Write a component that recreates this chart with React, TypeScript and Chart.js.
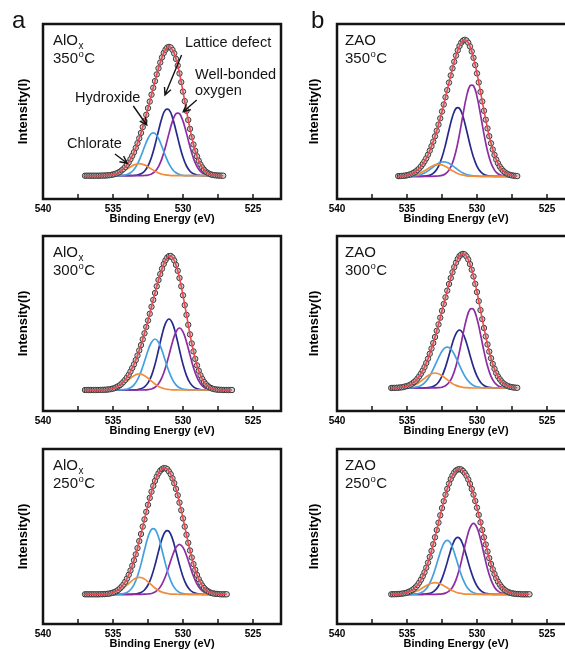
import { useEffect, useRef } from 'react';
import { Chart, registerables } from 'chart.js';

Chart.register(...registerables);

const FONT = '"Liberation Sans", Arial, Helvetica, sans-serif';
const _ = null;

// Binding-energy sample positions (eV)
const energyFine = [537, 536.875, 536.75, 536.625, 536.5, 536.375, 536.25, 536.125, 536, 535.875,
  535.75, 535.625, 535.5, 535.375, 535.25, 535.125, 535, 534.875, 534.75, 534.625,
  534.5, 534.375, 534.25, 534.125, 534, 533.875, 533.75, 533.625, 533.5, 533.375,
  533.25, 533.125, 533, 532.875, 532.75, 532.625, 532.5, 532.375, 532.25, 532.125,
  532, 531.875, 531.75, 531.625, 531.5, 531.375, 531.25, 531.125, 531, 530.875,
  530.75, 530.625, 530.5, 530.375, 530.25, 530.125, 530, 529.875, 529.75, 529.625,
  529.5, 529.375, 529.25, 529.125, 529, 528.875, 528.75, 528.625, 528.5, 528.375,
  528.25, 528.125, 528, 527.875, 527.75, 527.625, 527.5, 527.375, 527.25, 527.125,
  527, 526.875, 526.75, 526.625, 526.5, 526.375, 526.25];
const energyCoarse = [537, 536.75, 536.5, 536.25, 536, 535.75, 535.5, 535.25, 535, 534.75,
  534.5, 534.25, 534, 533.75, 533.5, 533.25, 533, 532.75, 532.5, 532.25,
  532, 531.75, 531.5, 531.25, 531, 530.75, 530.5, 530.25, 530, 529.75,
  529.5, 529.25, 529, 528.75, 528.5, 528.25, 528, 527.75, 527.5, 527.25,
  527, 526.75, 526.5, 526.25];

const xTickValues = [540, 537.5, 535, 532.5, 530, 527.5, 525];
const xLabeledTicks = [540, 535, 530, 525];

// ---------- AlOx 350 C ----------
const aloxMeasured350 = [0, 0, 0, 0, 0, 0, 0, 0, 0, 0.1,
  0.1, 0.2, 0.2, 0.4, 0.5, 0.8, 1.2, 1.6, 2.3, 3.1,
  4.0, 5.4, 6.8, 8.7, 11.0, 13.4, 16.6, 19.9, 23.5, 27.8,
  32.5, 37.4, 42.8, 48.6, 54.6, 60.9, 67.6, 74.1, 81.0, 87.9,
  94.6, 101.3, 107.4, 113.2, 118.3, 122.8, 126.0, 128.2, 128.8, 128.2,
  125.8, 122.2, 116.8, 110.2, 102.3, 93.6, 84.1, 74.6, 64.9, 55.7,
  46.8, 38.6, 31.2, 24.8, 19.4, 14.9, 11.1, 8.2, 6.0, 4.1,
  2.9, 1.9, 1.2, 0.8, 0.5, 0.3, 0.2, 0.1, 0, 0,
  _, _, _, _, _, _, _];
const aloxLattice350 = [0, 0, 0, 0, 0, 0, 0, 0, 0, 0,
  0, 0, 0, 0, 0.2, 0.7, 1.9, 4.5, 9.7, 18.4,
  30.7, 45.0, 58.0, 65.9, 65.9, 58.0, 45.0, 30.7, 18.4, 9.7,
  4.5, 1.9, 0.7, 0.2, 0, 0, 0, 0, 0, 0,
  _, _, _, _];
const aloxWell350 = [0, 0, 0, 0, 0, 0, 0, 0, 0, 0,
  0, 0, 0, 0, 0, 0, 0, 0.2, 0.6, 1.7,
  4.3, 9.1, 17.3, 28.9, 42.3, 54.6, 62.0, 62.0, 54.6, 42.3,
  28.9, 17.3, 9.1, 4.3, 1.7, 0.6, 0.2, 0, 0, 0,
  _, _, _, _];
const aloxHydroxide350 = [0, 0, 0, 0, 0, 0, 0, 0, 0, 0,
  0.1, 0.4, 1.2, 2.9, 6.2, 11.8, 19.7, 28.9, 37.2, 42.3,
  42.3, 37.2, 28.9, 19.7, 11.8, 6.2, 2.9, 1.2, 0.4, 0.1,
  0, 0, 0, 0, 0, 0, 0, 0, 0, 0,
  _, _, _, _];
const aloxChlorate350 = [0, 0, 0, 0, 0, 0, 0.1, 0.4, 0.8, 1.5,
  2.7, 4.5, 6.6, 8.8, 10.8, 11.9, 11.9, 10.8, 8.8, 6.6,
  4.5, 2.7, 1.5, 0.8, 0.4, 0.1, 0, 0, 0, 0,
  0, 0, 0, 0, 0, 0, 0, 0, 0, 0,
  _, _, _, _];

// ---------- AlOx 300 C ----------
const aloxMeasured300 = [0, 0, 0, 0, 0, 0, 0, 0, 0, 0.1,
  0.1, 0.2, 0.3, 0.5, 0.7, 1.0, 1.4, 2.0, 2.9, 3.8,
  4.9, 6.4, 8.2, 10.2, 12.6, 15.3, 18.5, 22.0, 25.7, 29.9,
  34.5, 39.6, 44.9, 50.7, 56.7, 63.0, 69.5, 76.2, 83.2, 90.1,
  97.0, 103.7, 110.0, 115.9, 121.3, 126.0, 129.8, 132.5, 133.9, 134.0,
  132.5, 129.5, 125.1, 119.2, 112.0, 103.7, 94.7, 84.9, 75.1, 65.2,
  55.6, 46.6, 38.6, 31.1, 24.6, 19.2, 14.7, 11.1, 8.1, 5.9,
  4.2, 2.8, 1.9, 1.2, 0.8, 0.5, 0.3, 0.2, 0.1, 0,
  0, 0, 0, 0, 0, _, _];
const aloxLattice300 = [0, 0, 0, 0, 0, 0, 0, 0, 0, 0,
  0, 0, 0, 0, 0.1, 0.4, 1.2, 3.1, 7.1, 14.4,
  25.6, 40.0, 55.0, 66.6, 71, 66.6, 55.0, 40.0, 25.6, 14.4,
  7.1, 3.1, 1.2, 0.4, 0.1, 0, 0, 0, 0, 0,
  0, 0, 0, _];
const aloxWell300 = [0, 0, 0, 0, 0, 0, 0, 0, 0, 0,
  0, 0, 0, 0, 0, 0, 0, 0.1, 0.4, 1.0,
  2.7, 6.2, 12.6, 22.3, 34.9, 48.1, 58.2, 62, 58.2, 48.1,
  34.9, 22.3, 12.6, 6.2, 2.7, 1.0, 0.4, 0.1, 0, 0,
  0, 0, 0, _];
const aloxHydroxide300 = [0, 0, 0, 0, 0, 0, 0, 0, 0, 0,
  0.1, 0.3, 0.9, 2.2, 5.1, 10.4, 18.4, 28.7, 39.5, 47.8,
  51, 47.8, 39.5, 28.7, 18.4, 10.4, 5.1, 2.2, 0.9, 0.3,
  0.1, 0, 0, 0, 0, 0, 0, 0, 0, 0,
  0, 0, 0, _];
const aloxChlorate300 = [0, 0, 0, 0, 0, 0.1, 0.2, 0.5, 1.0, 2.0,
  3.6, 6.0, 8.8, 11.8, 14.3, 15.8, 15.8, 14.3, 11.8, 8.8,
  6.0, 3.6, 2.0, 1.0, 0.5, 0.2, 0.1, 0, 0, 0,
  0, 0, 0, 0, 0, 0, 0, 0, 0, 0,
  0, 0, 0, _];

// ---------- AlOx 250 C ----------
const aloxMeasured250 = [0, 0, 0, 0, 0, 0, 0, 0, 0, 0.1,
  0.1, 0.2, 0.3, 0.5, 0.7, 1.2, 1.7, 2.3, 3.2, 4.4,
  5.9, 7.7, 9.9, 12.6, 15.8, 19.5, 23.8, 28.6, 34.0, 39.9,
  46.2, 53.2, 60.3, 67.7, 74.9, 82.4, 89.5, 96.4, 102.6, 108.4,
  113.4, 117.7, 121.0, 123.6, 125.2, 126.2, 126.0, 125.1, 122.8, 120.0,
  115.9, 111.1, 105.4, 99.0, 91.7, 84.1, 75.9, 67.7, 59.5, 51.5,
  43.8, 36.8, 30.2, 24.5, 19.4, 15.1, 11.6, 8.7, 6.4, 4.6,
  3.3, 2.3, 1.5, 1.0, 0.6, 0.4, 0.3, 0.1, 0, 0,
  0, 0, _, _, _, _, _];
const aloxHydroxide250 = [0, 0, 0, 0, 0, 0, 0, 0, 0, 0,
  0.2, 0.7, 1.8, 4.5, 9.6, 18.2, 30.2, 44.3, 57.2, 64.9,
  64.9, 57.2, 44.3, 30.2, 18.2, 9.6, 4.5, 1.8, 0.7, 0.2,
  0, 0, 0, 0, 0, 0, 0, 0, 0, 0,
  0, _, _, _];
const aloxLattice250 = [0, 0, 0, 0, 0, 0, 0, 0, 0, 0,
  0, 0, 0, 0, 0.2, 0.6, 1.8, 4.3, 9.3, 17.6,
  29.3, 42.9, 55.4, 63.0, 63.0, 55.4, 42.9, 29.3, 17.6, 9.3,
  4.3, 1.8, 0.6, 0.2, 0, 0, 0, 0, 0, 0,
  0, _, _, _];
const aloxWell250 = [0, 0, 0, 0, 0, 0, 0, 0, 0, 0,
  0, 0, 0, 0, 0, 0, 0, 0.1, 0.3, 0.8,
  2.2, 5.0, 10.2, 18.0, 28.2, 38.8, 46.9, 50, 46.9, 38.8,
  28.2, 18.0, 10.2, 5.0, 2.2, 0.8, 0.3, 0.1, 0, 0,
  0, _, _, _];
const aloxChlorate250 = [0, 0, 0, 0, 0, 0.1, 0.2, 0.5, 1.1, 2.2,
  3.9, 6.3, 9.4, 12.5, 15.2, 16.8, 16.8, 15.2, 12.5, 9.4,
  6.3, 3.9, 2.2, 1.1, 0.5, 0.2, 0.1, 0, 0, 0,
  0, 0, 0, 0, 0, 0, 0, 0, 0, 0,
  0, _, _, _];

// ---------- ZAO 350 C ----------
const zaoMeasured350 = [_, _, _, _, _, _, _, _, _, _,
  _, 0.2, 0.2, 0.4, 0.5, 0.7, 1.0, 1.5, 2.0, 2.8,
  3.7, 4.8, 6.3, 7.9, 9.9, 12.3, 15.0, 18.0, 21.6, 25.6,
  30.1, 34.7, 40.0, 45.6, 51.7, 58.0, 64.8, 71.8, 79.1, 86.2,
  93.7, 100.9, 108.0, 114.6, 120.7, 126.0, 130.3, 133.7, 135.7, 136.5,
  135.8, 133.6, 129.9, 124.9, 118.5, 111.2, 102.9, 93.9, 84.4, 74.9,
  65.5, 56.6, 47.9, 40.1, 33.0, 26.8, 21.4, 16.7, 13.0, 9.8,
  7.4, 5.4, 3.9, 2.7, 1.9, 1.3, 0.9, 0.6, 0.4, 0.2,
  _, _, _, _, _, _, _];
const zaoWell350 = [_, _, _, _, _, _, 0, 0, 0, 0,
  0, 0, 0, 0, 0, 0, 0.1, 0.3, 0.9, 2.5,
  6.2, 13.3, 25.3, 42.1, 61.7, 79.7, 90.5, 90.5, 79.7, 61.7,
  42.1, 25.3, 13.3, 6.2, 2.5, 0.9, 0.3, 0.1, 0, 0,
  _, _, _, _];
const zaoLattice350 = [_, _, _, _, _, _, 0, 0, 0, 0,
  0, 0, 0, 0.2, 0.7, 1.9, 4.7, 10.0, 19.0, 31.6,
  46.3, 59.8, 67.9, 67.9, 59.8, 46.3, 31.6, 19.0, 10.0, 4.7,
  1.9, 0.7, 0.2, 0, 0, 0, 0, 0, 0, 0,
  _, _, _, _];
const zaoHydroxide350 = [_, _, _, _, _, _, 0, 0, 0, 0.2,
  0.4, 0.9, 1.8, 3.3, 5.4, 8.0, 10.7, 13.0, 14.3, 14.3,
  13.0, 10.7, 8.0, 5.4, 3.3, 1.8, 0.9, 0.4, 0.2, 0,
  0, 0, 0, 0, 0, 0, 0, 0, 0, 0,
  _, _, _, _];
const zaoChlorate350 = [_, _, _, _, _, _, 0, 0.1, 0.2, 0.5,
  1.1, 2.1, 3.5, 5.5, 7.7, 9.9, 11.4, 12, 11.4, 9.9,
  7.7, 5.5, 3.5, 2.1, 1.1, 0.5, 0.2, 0.1, 0, 0,
  0, 0, 0, 0, 0, 0, 0, 0, 0, 0,
  _, _, _, _];

// ---------- ZAO 300 C ----------
const zaoMeasured300 = [_, _, _, _, _, _, _, 0, 0.1, 0.1,
  0.2, 0.3, 0.5, 0.7, 1.0, 1.5, 1.9, 2.6, 3.4, 4.5,
  5.9, 7.4, 9.5, 11.7, 14.4, 17.4, 20.9, 25.0, 29.3, 34.2,
  39.4, 45.0, 51.0, 57.2, 63.6, 70.3, 77.2, 84.0, 90.7, 97.4,
  104.0, 110.0, 115.7, 120.9, 125.3, 129.0, 131.9, 133.5, 134.1, 133.6,
  131.6, 128.5, 123.9, 118.3, 111.6, 104.1, 95.9, 86.9, 77.9, 68.9,
  60.0, 51.6, 43.6, 36.4, 29.8, 24.1, 19.2, 14.9, 11.5, 8.8,
  6.6, 4.7, 3.5, 2.4, 1.7, 1.1, 0.8, 0.5, 0.3, 0.2,
  _, _, _, _, _, _, _];
const zaoWell300 = [_, _, _, _, 0, 0, 0, 0, 0, 0,
  0, 0, 0, 0, 0, 0, 0.1, 0.3, 0.8, 2.2,
  5.4, 11.6, 22.0, 36.6, 53.7, 69.3, 78.7, 78.7, 69.3, 53.7,
  36.6, 22.0, 11.6, 5.4, 2.2, 0.8, 0.3, 0.1, 0, 0,
  _, _, _, _];
const zaoLattice300 = [_, _, _, _, 0, 0, 0, 0, 0, 0,
  0, 0, 0, 0.1, 0.3, 1.0, 2.5, 5.8, 11.8, 20.9,
  32.7, 45.0, 54.4, 58, 54.4, 45.0, 32.7, 20.9, 11.8, 5.8,
  2.5, 1.0, 0.3, 0.1, 0, 0, 0, 0, 0, 0,
  _, _, _, _];
const zaoHydroxide300 = [_, _, _, _, 0, 0, 0, 0, 0, 0.2,
  0.5, 1.2, 2.6, 5.2, 9.3, 15.3, 22.6, 30.2, 36.7, 40.5,
  40.5, 36.7, 30.2, 22.6, 15.3, 9.3, 5.2, 2.6, 1.2, 0.5,
  0.2, 0, 0, 0, 0, 0, 0, 0, 0, 0,
  _, _, _, _];
const zaoChlorate300 = [_, _, _, _, 0, 0, 0.1, 0.3, 0.7, 1.4,
  2.6, 4.4, 6.9, 9.7, 12.3, 14.3, 15, 14.3, 12.3, 9.7,
  6.9, 4.4, 2.6, 1.4, 0.7, 0.3, 0.1, 0, 0, 0,
  0, 0, 0, 0, 0, 0, 0, 0, 0, 0,
  _, _, _, _];

// ---------- ZAO 250 C ----------
const zaoMeasured250 = [_, _, _, _, _, _, _, 0, 0.1, 0.1,
  0.2, 0.2, 0.4, 0.6, 0.9, 1.2, 1.7, 2.4, 3.2, 4.3,
  5.6, 7.3, 9.2, 11.8, 14.7, 18.1, 22.0, 26.6, 31.7, 37.4,
  43.4, 50.1, 57.0, 64.3, 71.6, 79.0, 86.2, 93.1, 99.6, 105.4,
  110.7, 115.3, 118.9, 121.9, 123.8, 124.8, 125.2, 124.8, 123.3, 121.3,
  118.5, 114.8, 110.4, 105.3, 99.7, 93.3, 86.6, 79.4, 72.0, 64.4,
  57.0, 49.8, 42.8, 36.2, 30.3, 25.0, 20.3, 16.1, 12.6, 9.8,
  7.4, 5.6, 4.1, 2.9, 2.1, 1.5, 1.0, 0.7, 0.4, 0.3,
  0.2, 0.1, 0, 0, 0, 0, 0];
const zaoWell250 = [_, _, _, _, 0, 0, 0, 0, 0, 0,
  0, 0, 0, 0, 0, 0, 0, 0.1, 0.4, 1.2,
  3.1, 7.1, 14.4, 25.6, 40.0, 55.0, 66.6, 71, 66.6, 55.0,
  40.0, 25.6, 14.4, 7.1, 3.1, 1.2, 0.4, 0.1, 0, 0,
  0, 0, 0, 0];
const zaoLattice250 = [_, _, _, _, 0, 0, 0, 0, 0, 0,
  0, 0, 0, 0.2, 0.6, 1.6, 3.9, 8.3, 15.7, 26.1,
  38.2, 49.4, 56.1, 56.1, 49.4, 38.2, 26.1, 15.7, 8.3, 3.9,
  1.6, 0.6, 0.2, 0, 0, 0, 0, 0, 0, 0,
  0, 0, 0, 0];
const zaoHydroxide250 = [_, _, _, _, 0, 0, 0, 0, 0, 0,
  0.2, 0.5, 1.5, 3.7, 7.8, 14.9, 24.7, 36.2, 46.8, 53.1,
  53.1, 46.8, 36.2, 24.7, 14.9, 7.8, 3.7, 1.5, 0.5, 0.2,
  0, 0, 0, 0, 0, 0, 0, 0, 0, 0,
  0, 0, 0, 0];
const zaoChlorate250 = [_, _, _, _, 0, 0, 0.1, 0.2, 0.5, 1.1,
  2.0, 3.5, 5.4, 7.5, 9.6, 11.1, 11.7, 11.1, 9.6, 7.5,
  5.4, 3.5, 2.0, 1.1, 0.5, 0.2, 0.1, 0, 0, 0,
  0, 0, 0, 0, 0, 0, 0, 0, 0, 0,
  0, 0, 0, 0];

// ---------- Annotations (AlOx 350 C panel), in data units ----------
const noteLabels = ['Lattice defect', 'Well-bonded', 'oxygen', 'Hydroxide', 'Chlorate'];
const noteEnergy = [529.86, 529.14, 529.14, 537.71, 538.29];
const noteIntensity = [129, 96.7, 80.7, 74, 28];
const arrowFromEnergy = [530.1, 529.02, 533.55, 534.86];
const arrowFromIntensity = [120.7, 75.7, 69.7, 21.7];
const arrowToEnergy = [531.29, 529.98, 532.59, 533.98];
const arrowToIntensity = [80.7, 64, 50.7, 12.4];

const COLORS = {
  fit: '#ec4650',
  pointFill: '#d2d2d2',
  pointStroke: '#3c3c3c',
  lattice: '#262a8a',
  well: '#8e2ca3',
  hydroxide: '#45a0e0',
  chlorate: '#f28c3a',
  ink: '#141414',
};

const panels = [
  { key: 'a350', material: 'AlO', sub: 'x', temp: '350', measured: aloxMeasured350, lattice: aloxLattice350, well: aloxWell350, hydroxide: aloxHydroxide350, chlorate: aloxChlorate350, yMin: -23.3, yMax: 151.7, left: 0, top: 14, labelDx: 10, titlePad: 15.5, notes: true },
  { key: 'a300', material: 'AlO', sub: 'x', temp: '300', measured: aloxMeasured300, lattice: aloxLattice300, well: aloxWell300, hydroxide: aloxHydroxide300, chlorate: aloxChlorate300, yMin: -21, yMax: 154, left: 0, top: 226, labelDx: 10, titlePad: 15.5, notes: false },
  { key: 'a250', material: 'AlO', sub: 'x', temp: '250', measured: aloxMeasured250, lattice: aloxLattice250, well: aloxWell250, hydroxide: aloxHydroxide250, chlorate: aloxChlorate250, yMin: -29.7, yMax: 145.3, left: 0, top: 439, labelDx: 10, titlePad: 15.5, notes: false },
  { key: 'b350', material: 'ZAO', sub: '', temp: '350', measured: zaoMeasured350, lattice: zaoLattice350, well: zaoWell350, hydroxide: zaoHydroxide350, chlorate: zaoChlorate350, yMin: -22.7, yMax: 152.3, left: 294, top: 14, labelDx: 8, titlePad: 13, notes: false },
  { key: 'b300', material: 'ZAO', sub: '', temp: '300', measured: zaoMeasured300, lattice: zaoLattice300, well: zaoWell300, hydroxide: zaoHydroxide300, chlorate: zaoChlorate300, yMin: -23, yMax: 152, left: 294, top: 226, labelDx: 8, titlePad: 13, notes: false },
  { key: 'b250', material: 'ZAO', sub: '', temp: '250', measured: zaoMeasured250, lattice: zaoLattice250, well: zaoWell250, hydroxide: zaoHydroxide250, chlorate: zaoChlorate250, yMin: -29.7, yMax: 145.3, left: 294, top: 439, labelDx: 8, titlePad: 13, notes: false },
];

type PanelDef = typeof panels[number];

const toPoints = (xs: number[], ys: (number | null)[]) =>
  xs.map((x, i) => ({ x, y: ys[i] })).filter((p) => p.y !== null && p.y !== undefined);

function drawArrow(ctx: CanvasRenderingContext2D, x1: number, y1: number, x2: number, y2: number) {
  const ang = Math.atan2(y2 - y1, x2 - x1);
  const len = 8;
  const spread = 0.45;
  ctx.beginPath();
  ctx.moveTo(x1, y1);
  ctx.lineTo(x2, y2);
  ctx.moveTo(x2 - len * Math.cos(ang - spread), y2 - len * Math.sin(ang - spread));
  ctx.lineTo(x2, y2);
  ctx.lineTo(x2 - len * Math.cos(ang + spread), y2 - len * Math.sin(ang + spread));
  ctx.stroke();
}

function makeDecor(panel: PanelDef) {
  return {
    id: 'decor_' + panel.key,
    afterDatasetsDraw(chart: any) {
      const { ctx, chartArea: a, scales } = chart;
      const xs = scales.x;
      const ys = scales.y;
      ctx.save();
      ctx.strokeStyle = COLORS.ink;
      ctx.lineWidth = 1.5;
      xTickValues.forEach((v) => {
        const px = xs.getPixelForValue(v);
        ctx.beginPath();
        ctx.moveTo(px, a.bottom);
        ctx.lineTo(px, a.bottom - 5);
        ctx.stroke();
      });
      ctx.lineWidth = 2.5;
      ctx.strokeRect(a.left, a.top, a.right - a.left, a.bottom - a.top);

      ctx.fillStyle = COLORS.ink;
      ctx.textAlign = 'left';
      ctx.textBaseline = 'alphabetic';
      const tx = a.left + panel.labelDx;
      const b1 = a.top + 21;
      const b2 = a.top + 38.5;
      ctx.font = `15px ${FONT}`;
      ctx.fillText(panel.material, tx, b1);
      if (panel.sub) {
        const w = ctx.measureText(panel.material).width;
        ctx.font = `10px ${FONT}`;
        ctx.fillText(panel.sub, tx + w + 0.5, b1 + 3.5);
      }
      ctx.font = `15px ${FONT}`;
      ctx.fillText(panel.temp, tx, b2);
      const wt = ctx.measureText(panel.temp).width;
      ctx.font = `9.5px ${FONT}`;
      ctx.fillText('o', tx + wt + 0.5, b2 - 6);
      const wo = ctx.measureText('o').width;
      ctx.font = `15px ${FONT}`;
      ctx.fillText('C', tx + wt + wo + 1, b2);

      if (panel.notes) {
        ctx.font = `14.5px ${FONT}`;
        noteLabels.forEach((t, i) => {
          ctx.fillText(t, xs.getPixelForValue(noteEnergy[i]), ys.getPixelForValue(noteIntensity[i]));
        });
        ctx.lineWidth = 1.4;
        arrowFromEnergy.forEach((e, i) => {
          drawArrow(
            ctx,
            xs.getPixelForValue(e),
            ys.getPixelForValue(arrowFromIntensity[i]),
            xs.getPixelForValue(arrowToEnergy[i]),
            ys.getPixelForValue(arrowToIntensity[i])
          );
        });
      }
      ctx.restore();
    },
  };
}

function PanelChart({ panel }: { panel: PanelDef }) {
  const ref = useRef<HTMLCanvasElement | null>(null);
  useEffect(() => {
    if (!ref.current) return;
    const line = (vals: (number | null)[], color: string) => ({
      data: toPoints(energyCoarse, vals),
      borderColor: color,
      borderWidth: 1.7,
      pointRadius: 0,
      tension: 0.4,
      fill: false,
      order: 3,
    });
    const chart = new Chart(ref.current, {
      type: 'line',
      data: {
        datasets: [
          {
            data: toPoints(energyFine, panel.measured),
            borderColor: COLORS.fit,
            borderWidth: 1.6,
            pointRadius: 0,
            tension: 0.4,
            fill: false,
            order: 1,
          },
          {
            data: toPoints(energyFine, panel.measured),
            showLine: false,
            pointRadius: 2.7,
            pointBorderWidth: 1,
            pointBackgroundColor: COLORS.pointFill,
            pointBorderColor: COLORS.pointStroke,
            order: 2,
          },
          line(panel.chlorate, COLORS.chlorate),
          line(panel.hydroxide, COLORS.hydroxide),
          line(panel.well, COLORS.well),
          line(panel.lattice, COLORS.lattice),
        ] as any,
      },
      options: {
        responsive: false,
        animation: false,
        devicePixelRatio: 1,
        events: [],
        layout: { padding: { left: 0, top: 10, right: 9, bottom: 0 } },
        plugins: { legend: { display: false }, tooltip: { enabled: false } },
        scales: {
          x: {
            type: 'linear',
            reverse: true,
            min: 523,
            max: 540,
            afterBuildTicks: (s: any) => {
              s.ticks = xTickValues.map((value) => ({ value }));
            },
            afterFit: (s: any) => {
              s.height = 30;
            },
            grid: { display: false, drawTicks: false },
            border: { display: false },
            ticks: {
              autoSkip: false,
              maxRotation: 0,
              padding: 4,
              color: '#000',
              font: { family: FONT, size: 10, weight: 'bold' },
              callback: (v: any) => (xLabeledTicks.includes(Number(v)) ? String(v) : ''),
            },
            title: {
              display: true,
              text: 'Binding Energy (eV)',
              color: '#000',
              font: { family: FONT, size: 11, weight: 'bold' },
              padding: { top: 0, bottom: 3.5 },
            },
          },
          y: {
            type: 'linear',
            min: panel.yMin,
            max: panel.yMax,
            afterFit: (s: any) => {
              s.width = 43;
            },
            grid: { display: false, drawTicks: false },
            border: { display: false },
            ticks: { display: false },
            title: {
              display: true,
              text: 'Intensity(I)',
              color: '#000',
              font: { family: FONT, size: 13, weight: 'bold' },
              padding: { top: panel.titlePad, bottom: 0 },
            },
          },
        },
      } as any,
      plugins: [makeDecor(panel)],
    });
    return () => chart.destroy();
  }, [panel]);
  return (
    <canvas
      ref={ref}
      width={290}
      height={215}
      style={{ position: 'absolute', left: panel.left, top: panel.top, width: 290, height: 215 }}
    />
  );
}

export default function App() {
  const letter = { position: 'absolute' as const, top: 8, font: `24px ${FONT}`, lineHeight: '24px', color: '#141414' };
  return (
    <div style={{ position: 'fixed', left: 0, top: 0, width: 565, height: 650, overflow: 'hidden', background: '#fff' }}>
      {panels.map((p) => (
        <PanelChart key={p.key} panel={p} />
      ))}
      <div style={{ ...letter, left: 12 }}>a</div>
      <div style={{ ...letter, left: 311 }}>b</div>
    </div>
  );
}
